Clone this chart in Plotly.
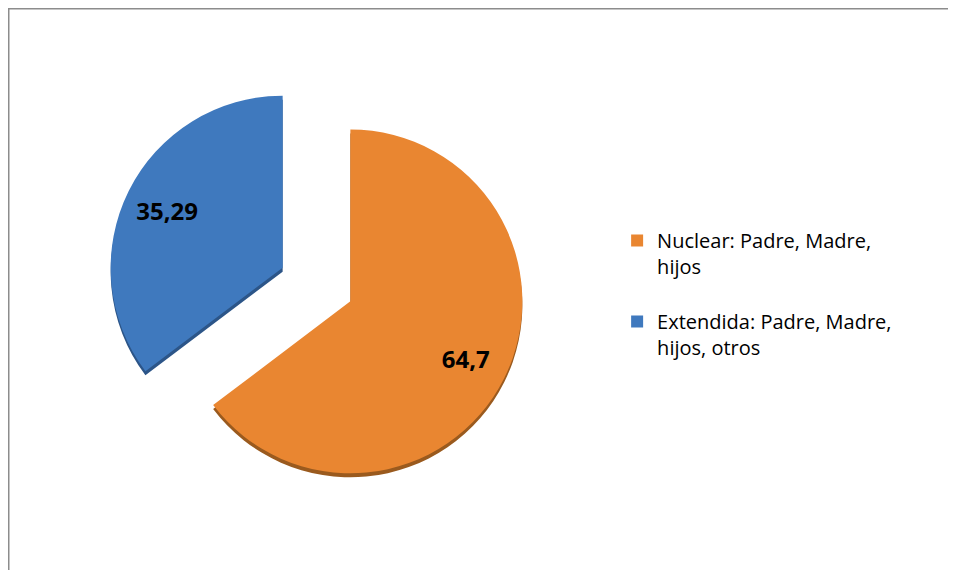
import plotly.graph_objects as go

# Datos
categorias = ['Nuclear: Padre, Madre,<br>hijos<br> ', 'Extendida: Padre, Madre,<br>hijos, otros<br> ']
valores = [64.7, 35.29]
colores = ['#E98631', '#3F79BE']
sombras = ['#9A5A1E', '#2C5588']

etiquetas = [f'{v:g}'.replace('.', ',') for v in valores]

W, H = 940, 562          # la página añade 8 px de margen
dom_x = [0.105, 0.5514]
dom_y = [0.1347, 0.8813]
tirar = [0.22, 0.22]
sh = 4 / H                # desplazamiento del canto "3D"

fig = go.Figure()

# canto oscuro (efecto 3D)
fig.add_trace(go.Pie(
    labels=categorias, values=valores, textinfo='none',
    sort=False, direction='clockwise', rotation=0, pull=tirar,
    marker=dict(colors=sombras, line=dict(width=0)),
    domain=dict(x=dom_x, y=[dom_y[0] - sh, dom_y[1] - sh]),
    showlegend=False, hoverinfo='skip',
))

# sectores
fig.add_trace(go.Pie(
    labels=categorias, values=valores, textinfo='none',
    sort=False, direction='clockwise', rotation=0, pull=tirar,
    marker=dict(colors=colores, line=dict(width=0)),
    domain=dict(x=dom_x, y=dom_y),
    hovertemplate='%{value}<extra></extra>',
))

# etiquetas de datos
fig.add_trace(go.Pie(
    labels=categorias, values=valores, hole=0.5,
    text=etiquetas, textinfo='text',
    textposition='inside', insidetextorientation='horizontal',
    textfont=dict(family='Open Sans', size=24, color='#000000', weight='bold'),
    sort=False, direction='clockwise', rotation=0, pull=tirar,
    marker=dict(colors=['rgba(0,0,0,0)'] * 2, line=dict(width=0)),
    domain=dict(x=dom_x, y=dom_y),
    showlegend=False, hoverinfo='skip',
))

# borde del gráfico (solo arriba e izquierda quedan a la vista)
fig.add_shape(type='line', xref='paper', yref='paper', x0=0, x1=1, y0=1, y1=1,
              line=dict(color='#8C8C8C', width=3))
fig.add_shape(type='line', xref='paper', yref='paper', x0=0, x1=0, y0=0, y1=1,
              line=dict(color='#8C8C8C', width=3))

fig.update_layout(
    width=W, height=H,
    margin=dict(l=0, r=0, t=0, b=0),
    paper_bgcolor='#FFFFFF', plot_bgcolor='#FFFFFF',
    font=dict(family='Open Sans', size=20, color='#000000'),
    showlegend=True,
    legend=dict(
        x=0.648, y=0.621, xanchor='left', yanchor='top',
        valign='top', itemwidth=30,
        font=dict(family='Open Sans', size=20, color='#000000'),
        bgcolor='rgba(0,0,0,0)',
    ),
)

fig.write_html('out.html')
